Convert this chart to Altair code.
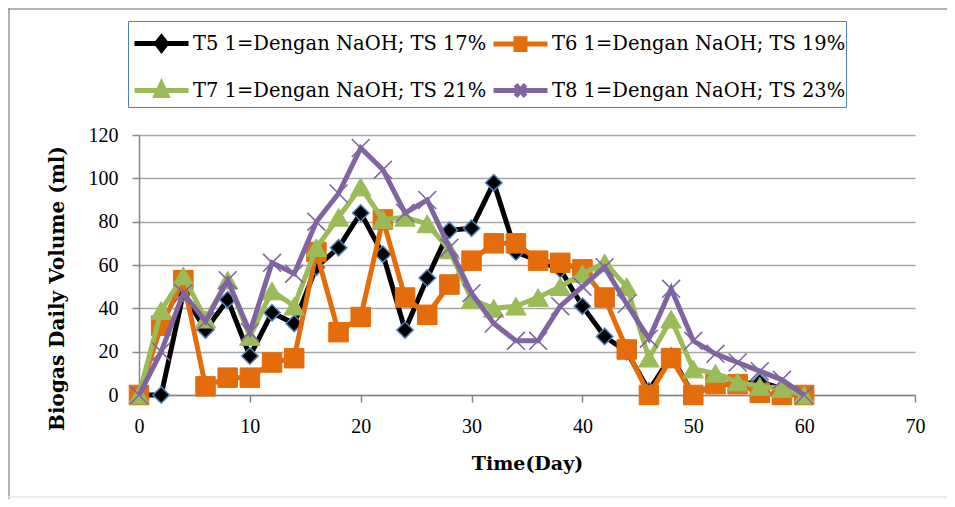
import altair as alt
import pandas as pd

days = [0, 2, 4, 6, 8, 10, 12, 14, 16, 18, 20, 22, 24, 26, 28, 30,
        32, 34, 36, 38, 40, 42, 44, 46, 48, 50, 52, 54, 56, 58, 60]
t5 = [0, 0, 47, 30, 44, 18, 38, 33, 59, 68, 84, 65, 30, 54, 76, 77,
      98, 66, 62, 58, 41, 27, 20, 2, 18, 0, 5, 5, 6, 3, 0]
t6 = [0, 32, 53, 4, 8, 8, 15, 17, 66, 29, 36, 81, 45, 37, 51, 62,
      70, 70, 62, 61, 58, 45, 21, 0, 17, 0, 5, 5, 1, 0, 0]
t7 = [0, 39, 55, 35, 53, 27, 48, 41, 68, 82, 96, 81, 82, 79, 67, 44,
      40, 41, 45, 50, 56, 61, 50, 17, 35, 12, 10, 6, 4, 3, 0]
t8 = [0, 20, 47, 34, 53, 29, 61, 56, 80, 93, 114, 104, 84, 90, 68, 47,
      33, 25, 25, 41, 50, 59, 42, 26, 49, 25, 19, 15, 11, 7, 0]

names = ["T5 1=Dengan NaOH; TS 17%", "T6 1=Dengan NaOH; TS 19%",
         "T7 1=Dengan NaOH; TS 21%", "T8 1=Dengan NaOH; TS 23%"]
colors = ["#000000", "#E46C0A", "#9BBB59", "#8064A2"]
x_ticks = [0, 10, 20, 30, 40, 50, 60, 70]
y_ticks = [0, 20, 40, 60, 80, 100, 120]

rows = []
for name, vals in zip(names, [t5, t6, t7, t8]):
    for d, v in zip(days, vals):
        rows.append({"series": name, "day": d, "value": v})
df = pd.DataFrame(rows)

W, H = 776, 260
FONT = "DejaVu Serif"
TICKFONT = "Liberation Serif"
XPATH = "M-1,-1L1,1M1,-1L-1,1"

x_enc = alt.X("day:Q", scale=alt.Scale(domain=[0, 70], nice=False),
              axis=alt.Axis(values=x_ticks, title="Time(Day)", grid=False,
                            labelFlush=False, labelPadding=14, titlePadding=18))
y_enc = alt.Y("value:Q", scale=alt.Scale(domain=[0, 120], nice=False),
              axis=alt.Axis(values=y_ticks, title="Biogas Daily  Volume (ml)",
                            grid=True, gridColor="#A6A6A6", gridWidth=1.5,
                            labelFlush=False, labelPadding=14, titleX=-82, titleY=153,
                            titleBaseline="middle", titleFontSize=20))

base = alt.Chart(df)

point_styles = [
    dict(shape="diamond", filled=True, fill="#000000", stroke="#4F81BD",
         strokeWidth=1.5, size=270),
    dict(shape="square", filled=True, fill="#E46C0A", stroke="#E46C0A",
         strokeWidth=1, size=380),
    dict(shape="triangle-up", filled=True, fill="#9BBB59", stroke="#9BBB59",
         strokeWidth=1, size=420),
    dict(shape=XPATH, filled=False, stroke="#8064A2", strokeWidth=1.6,
         size=320),
]

layers = []
for name, col, ps in zip(names, colors, point_styles):
    sub = base.transform_filter(alt.datum.series == name)
    layers.append(sub.mark_line(color=col, strokeWidth=5).encode(x=x_enc, y=y_enc))
    layers.append(sub.mark_point(opacity=1, **ps).encode(x=x_enc, y=y_enc))

leg_paths = [
    "M-3,0H3M0,-0.7L0.55,0L0,0.7L-0.55,0Z",
    "M-3,0H3M-0.5,-0.6H0.5V0.6H-0.5Z",
    "M-3,0H3M0,-0.75L0.6,0.55H-0.6Z",
    "M-3,0H3M-0.55,-0.65L0.55,0.65M0.55,-0.65L-0.55,0.65",
]

leg = alt.Legend(title=" ", titleFontSize=1, titlePadding=10,
                 orient="none", legendX=-11, legendY=-114,
                 columns=2, direction="horizontal",
                 strokeColor="#4F81BD", padding=0,
                 labelFont=FONT, labelFontSize=19.5, labelColor="#000000",
                 symbolSize=324, symbolStrokeWidth=5, symbolOffset=22,
                 labelOffset=20, columnPadding=-12, rowPadding=13,
                 labelLimit=400)

legend_layer = base.transform_filter("false").mark_point(
    filled=True, opacity=1, strokeWidth=5).encode(
    x=x_enc, y=y_enc,
    fill=alt.Fill("series:N", scale=alt.Scale(domain=names, range=colors), legend=leg),
    stroke=alt.Stroke("series:N", scale=alt.Scale(domain=names, range=colors), legend=leg),
    shape=alt.Shape("series:N", scale=alt.Scale(domain=names, range=leg_paths), legend=leg),
)

one = base.transform_filter(alt.datum.day == 0).transform_filter(alt.datum.series == names[0])
frame_left = one.mark_rule(color="#999999", strokeWidth=1.5).encode(
    x=alt.value(-130), y=alt.value(-127), y2=alt.value(H + 104))
frame_top = one.mark_rule(color="#999999", strokeWidth=1.5).encode(
    x=alt.value(-131), x2=alt.value(W + 60), y=alt.value(-126))
frame_bottom = one.mark_rule(color="#E6E6E6", strokeWidth=1.5).encode(
    x=alt.value(-131), x2=alt.value(W + 60), y=alt.value(H + 102))

chart = alt.layer(frame_left, frame_top, frame_bottom, *layers, legend_layer).properties(
    width=W, height=H,
    autosize=alt.AutoSizeParams(type="none"),
    padding={"left": 131, "top": 127, "right": 32, "bottom": 104},
).configure_view(strokeWidth=0).configure_axis(
    labelFont=TICKFONT, labelFontSize=20, labelColor="#000000",
    domainColor="#868686", domainWidth=1.5,
    tickColor="#868686", tickWidth=1.5, tickSize=7,
    titleFont=FONT, titleFontSize=19, titleFontWeight="bold", titleColor="#000000",
)

chart.save("out.html", embed_options={"renderer": "svg", "actions": False})
